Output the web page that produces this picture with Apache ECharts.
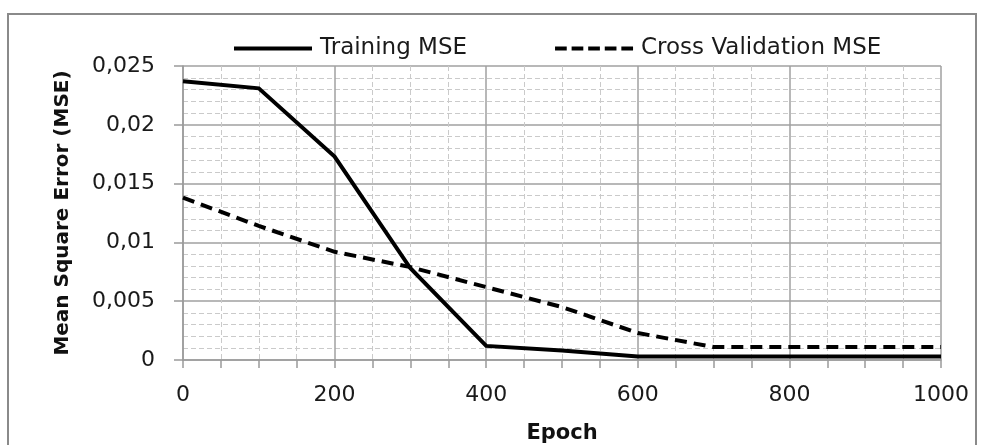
<!DOCTYPE html>
<html>
<head>
<meta charset="utf-8">
<script src="https://cdn.jsdelivr.net/npm/echarts@6/dist/echarts.min.js"></script>
<style>
html,body{margin:0;padding:0;background:#fff;}
#chart{width:982px;height:445px;}
</style>
</head>
<body>
<div id="chart"></div>
<script>
// ---- data ----
var epochs = [0, 100, 200, 300, 400, 500, 600, 700, 800, 900, 1000];
var trainingMSE = [0.0237, 0.0231, 0.0173, 0.0078, 0.0012, 0.0008, 0.0003, 0.0003, 0.0003, 0.0003, 0.0003];
var crossValMSE = [0.0138, 0.0114, 0.0092, 0.0079, 0.0062, 0.0045, 0.0023, 0.0011, 0.0011, 0.0011, 0.0011];
var seriesNames = ['Training MSE', 'Cross Validation MSE'];
var yTickValues = [0, 0.005, 0.01, 0.015, 0.02, 0.025];
var yTickLabels = ['0', '0,005', '0,01', '0,015', '0,02', '0,025'];
var xTickValues = [0, 200, 400, 600, 800, 1000];
var xTickLabels = ['0', '200', '400', '600', '800', '1000'];
var xAxisName = 'Epoch';
var yAxisName = 'Mean Square Error (MSE)';

function pairs(xs, ys) { return xs.map(function (x, i) { return [x, ys[i]]; }); }
function lookup(vals, labels, v) {
  for (var i = 0; i < vals.length; i++) { if (Math.abs(vals[i] - v) < 1e-9) return labels[i]; }
  return '';
}

var FONT = 'DejaVu Sans';
var chart = echarts.init(document.getElementById('chart'), null, {renderer: 'canvas'});
var dashIcon = 'path://M0,0h12v4h-12z M17,0h12v4h-12z M34,0h12v4h-12z M51,0h12v4h-12z M68,0h12v4h-12z';
var solidIcon = 'path://M0,0h80v4h-80z';

chart.setOption({
  backgroundColor: '#ffffff',
  animation: false,
  graphic: [{
    type: 'rect',
    shape: {x: 8, y: 14, width: 968, height: 500},
    style: {fill: 'none', stroke: '#8a8a8a', lineWidth: 2},
    silent: true, z: -1
  }],
  legend: {
    left: 229, top: 32,
    itemWidth: 78, itemHeight: 4, itemGap: 88,
    data: [
      {name: seriesNames[0], icon: solidIcon},
      {name: seriesNames[1], icon: dashIcon}
    ],
    itemStyle: {color: '#000'},
    textStyle: {fontFamily: FONT, fontSize: 23, color: '#1a1a1a', padding: [0, 0, 0, 3]}
  },
  grid: {left: 183, right: 41, top: 66, bottom: 85, containLabel: false, outerBoundsMode: 'none'},
  xAxis: {
    type: 'value', min: 0, max: 1000, interval: 200,
    name: xAxisName, nameLocation: 'middle', nameGap: 63,
    nameTextStyle: {fontFamily: FONT, fontSize: 21, fontWeight: 'bold', color: '#111'},
    axisLine: {show: true, lineStyle: {color: '#9a9a9a', width: 1.5}},
    axisTick: {show: true, inside: false, length: 8, lineStyle: {color: '#9a9a9a', width: 1.5}},
    minorTick: {show: true, splitNumber: 4, length: 8, lineStyle: {color: '#9a9a9a', width: 1.5}},
    axisLabel: {fontFamily: FONT, fontSize: 22, color: '#1a1a1a', margin: 24,
      formatter: function (v) { return lookup(xTickValues, xTickLabels, v); }},
    splitLine: {show: true, lineStyle: {color: '#a0a0a0', width: 1.5}},
    minorSplitLine: {show: true, lineStyle: {color: '#cacaca', width: 1, type: [5, 3]}}
  },
  yAxis: {
    type: 'value', min: 0, max: 0.025, interval: 0.005,
    name: yAxisName, nameLocation: 'middle', nameGap: 110, nameRotate: 90,
    nameTextStyle: {fontFamily: FONT, fontSize: 20, fontWeight: 'bold', color: '#111'},
    axisLine: {show: true, lineStyle: {color: '#9a9a9a', width: 1.5}},
    axisTick: {show: true, inside: false, length: 9, lineStyle: {color: '#9a9a9a', width: 1.5}},
    minorTick: {show: false, splitNumber: 5},
    axisLabel: {fontFamily: FONT, fontSize: 22, color: '#1a1a1a', margin: 28,
      formatter: function (v) { return lookup(yTickValues, yTickLabels, v); }},
    splitLine: {show: true, lineStyle: {color: '#a0a0a0', width: 1.5}},
    minorSplitLine: {show: true, lineStyle: {color: '#cacaca', width: 1, type: [5, 3]}}
  },
  series: [
    {
      name: seriesNames[0], type: 'line', symbol: 'none', showSymbol: false,
      data: pairs(epochs, trainingMSE),
      lineStyle: {color: '#000', width: 4, type: 'solid', join: 'miter'},
      itemStyle: {color: '#000'}, z: 3
    },
    {
      name: seriesNames[1], type: 'line', symbol: 'none', showSymbol: false,
      data: pairs(epochs, crossValMSE),
      lineStyle: {color: '#000', width: 4, type: [12, 7], join: 'miter'},
      itemStyle: {color: '#000'}, z: 2
    }
  ]
});
</script>
</body>
</html>
